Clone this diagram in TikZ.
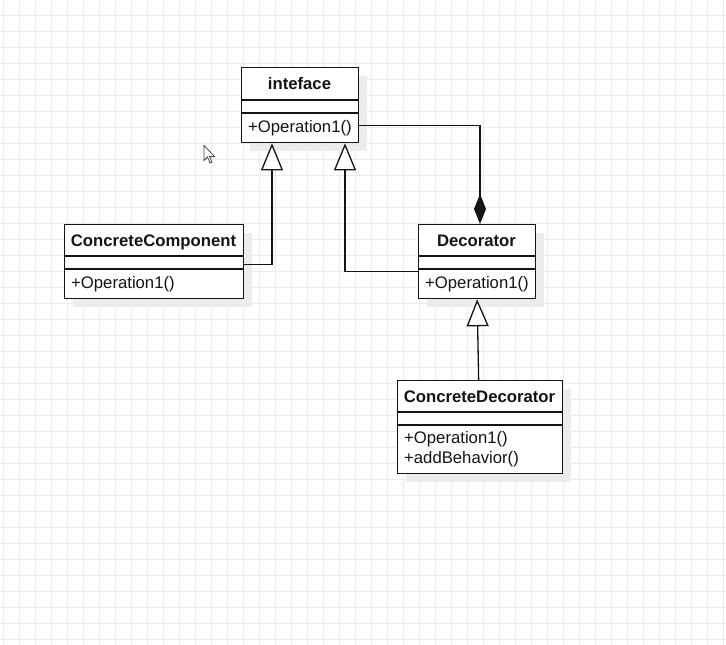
\documentclass[tikz,border=0pt]{standalone}
\usepackage{fontspec}
\setmainfont{Liberation Sans}
\usetikzlibrary{arrows.meta}

\definecolor{gridline}{RGB}{235,235,235}
\definecolor{shadowgray}{RGB}{236,236,236}
\definecolor{ink}{RGB}{20,20,20}
\definecolor{pointer}{RGB}{70,70,70}

\tikzset{
  classbox/.style={draw=ink, line width=1.3pt, fill=white, inner sep=0pt, anchor=north west},
  boxshadow/.style={fill=shadowgray, draw=none},
  titletext/.style={font=\bfseries\fontsize{16.7}{20}\selectfont, anchor=base, inner sep=0pt, text=ink},
  membertext/.style={font=\fontsize{16.7}{20}\selectfont, anchor=base west, inner sep=0pt, text=ink},
  wire/.style={draw=ink, line width=1.3pt},
  inherit/.style={wire, -{Triangle[length=27pt, width=22pt, fill=white]}},
  compose/.style={wire, -{Diamond[length=30pt, width=12pt]}},
  gridrule/.style={draw=gridline, line width=1pt},
}

% UML class box: name, left, top, width, height, header height, title
\newcommand\umlclass[7]{%
  \fill[boxshadow] (#2+9,#3+9) rectangle ++(#4,#5);
  \node[classbox, minimum width=#4pt, minimum height=#5pt] (#1) at (#2,#3) {};
  \draw[wire] (#2,#3+#6) -- ++(#4,0);
  \draw[wire] (#2,#3+#6+13) -- ++(#4,0);
  \node[titletext] (#1-title) at (#2+#4/2,#3+22) {#7};
}

\begin{document}
\begin{tikzpicture}[x=1pt,y=-1pt]
  \useasboundingbox (0,0) rectangle (726,645);
  \fill[white] (0,0) rectangle (726,645);

  % background grid
  \foreach \i in {0,...,45}
    \draw[gridrule] (3.3+16*\i,0) -- (3.3+16*\i,645);
  \foreach \j in {0,...,40}
    \draw[gridrule] (0,-0.3+16*\j) -- (726,-0.3+16*\j);

  % classes
  \umlclass{iface}{241}{67}{117}{75}{33}{inteface}
  \node[membertext] (iface-op) at (248,132.5) {+Operation1()};

  \umlclass{cc}{64}{224}{179}{74}{32}{ConcreteComponent}
  \node[membertext] (cc-op) at (71,288.5) {+Operation1()};

  \umlclass{dec}{418}{224}{117}{74}{32}{Decorator}
  \node[membertext] (dec-op) at (425,288.5) {+Operation1()};

  \umlclass{cd}{397}{380}{165}{93}{32}{ConcreteDecorator}
  \node[membertext] (cd-op) at (404,443.5) {+Operation1()};
  \node[membertext] (cd-add) at (404,463.5) {+addBehavior()};

  % relations
  \draw[inherit] ([yshift=-3pt]cc.east) -| (iface.south -| 272,0);
  \draw[inherit] ([yshift=-10pt]dec.west) -| (iface.south -| 345,0);
  \draw[compose] ([yshift=-20pt]iface.east) -| (dec.north -| 480,0);
  \draw[inherit] ([xshift=-1.5pt]cd.north) -- (dec.south);

  % mouse pointer
  \draw[draw=pointer, fill=white, line width=0.8pt, line join=miter]
    (204,145.5) -- ++(0,15) -- ++(3.5,-3.5) -- ++(2.5,6) -- ++(2,-1)
    -- ++(-2.5,-5.5) -- ++(5,0) -- cycle;
\end{tikzpicture}
\end{document}
